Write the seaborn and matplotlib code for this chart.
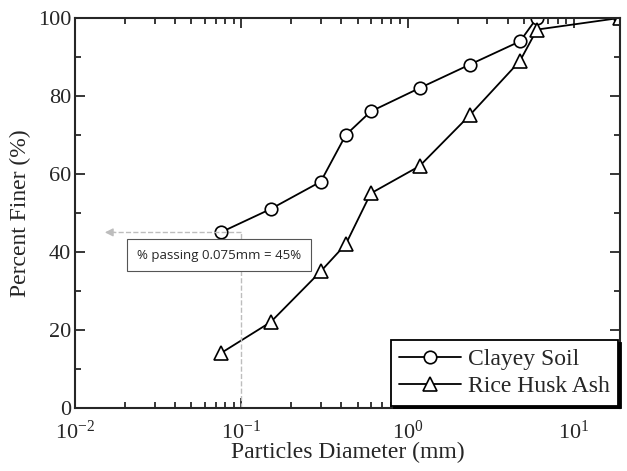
import numpy as np
import pandas as pd
import matplotlib
matplotlib.use("Agg")
import matplotlib.pyplot as plt
import seaborn as sns
from matplotlib.ticker import LogLocator, MultipleLocator, NullFormatter

# Data
diam_clay = [0.075, 0.15, 0.3, 0.425, 0.6, 1.18, 2.36, 4.75, 6.0, 19.0]
finer_clay = [45, 51, 58, 70, 76, 82, 88, 94, 100, 100]
diam_rha = [0.075, 0.15, 0.3, 0.425, 0.6, 1.18, 2.36, 4.75, 6.0, 19.0]
finer_rha = [14, 22, 35, 42, 55, 62, 75, 89, 97, 100]

sns.set_style("ticks")
plt.rcParams['font.family'] = ['Liberation Serif', 'DejaVu Serif']
plt.rcParams['mathtext.fontset'] = 'custom'
plt.rcParams['mathtext.rm'] = 'Liberation Serif'

df_clay = pd.DataFrame({"d": diam_clay, "p": finer_clay})
df_rha = pd.DataFrame({"d": diam_rha, "p": finer_rha})

fig = plt.figure(figsize=(6.27, 4.71), dpi=100)
ax = fig.add_axes([0.120, 0.134, 0.869, 0.828])

sns.lineplot(data=df_clay, x="d", y="p", ax=ax, color="black", lw=1.3,
             marker="o", markersize=9, markerfacecolor="white",
             markeredgecolor="black", markeredgewidth=1.2,
             label="Clayey Soil", sort=False)
sns.lineplot(data=df_rha, x="d", y="p", ax=ax, color="black", lw=1.3,
             marker="^", markersize=10, markerfacecolor="white",
             markeredgecolor="black", markeredgewidth=1.2,
             label="Rice Husk Ash", sort=False)

ax.set_xscale("log")
ax.set_xlim(0.01, 19)
ax.set_ylim(0, 100)
ax.xaxis.set_major_locator(LogLocator(base=10))
ax.xaxis.set_minor_locator(LogLocator(base=10, subs=np.arange(2, 10)))
ax.xaxis.set_minor_formatter(NullFormatter())
ax.yaxis.set_major_locator(MultipleLocator(20))
ax.yaxis.set_minor_locator(MultipleLocator(10))

ax.tick_params(which="both", direction="in", top=True, right=True,
               labelsize=16, width=1.3)
ax.tick_params(axis="x", pad=9)
ax.tick_params(axis="y", pad=3)
ax.tick_params(which="major", length=7)
ax.tick_params(which="minor", length=4)
for s in ax.spines.values():
    s.set_linewidth(1.5)

ax.set_xlabel("Particles Diameter (mm)", fontsize=17, labelpad=-1)
ax.set_ylabel("Percent Finer (%)", fontsize=17, labelpad=5)

# 0.075 mm annotation
gray = "#bdbdbd"
ax.plot([0.1, 0.1], [0, 45], ls="--", color=gray, lw=1)
ax.plot([0.1, 0.017], [45, 45], ls="--", color=gray, lw=1)
ax.annotate("", xy=(0.0145, 45), xytext=(0.018, 45),
            arrowprops=dict(arrowstyle="-|>", color=gray, lw=1,
                            mutation_scale=12))
ax.text(0.0735, 39.2, "% passing 0.075mm = 45%", ha="center", va="center",
        fontsize=9.5, family=["Open Sans", "DejaVu Sans"],
        bbox=dict(boxstyle="square,pad=0.75", fc="white", ec="#555555", lw=0.8))

leg = ax.legend(loc="lower right", fontsize=17, frameon=True, fancybox=False,
                edgecolor="black", shadow={"color": "black", "alpha": 1},
                handlelength=2.6, borderaxespad=0.1, labelspacing=0.25,
                handletextpad=0.3, borderpad=0.35)
leg.get_frame().set_linewidth(1.3)
leg.get_frame().set_alpha(1)

fig.savefig("out.png", dpi=100)
